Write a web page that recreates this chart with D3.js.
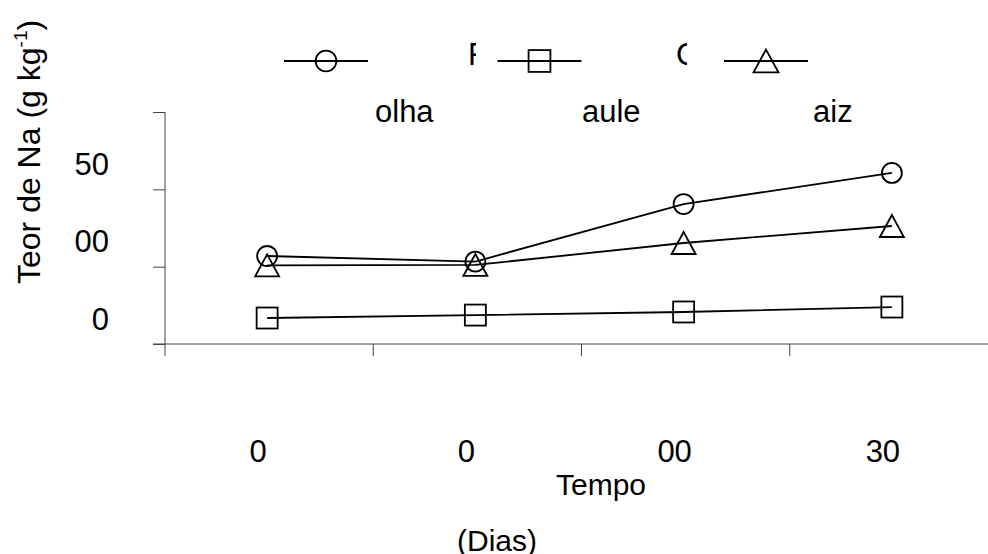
<!DOCTYPE html>
<html>
<head>
<meta charset="utf-8">
<script src="https://cdn.jsdelivr.net/npm/d3@7"></script>
<style>
  html, body { margin: 0; padding: 0; background: #fff; }
  svg { display: block; font-family: "Liberation Sans", Arial, sans-serif; }
</style>
</head>
<body>
<svg id="chart" width="988" height="554"></svg>
<script>
// ---- data ----
const categories = [0, 1, 2, 3];
const xTickLabels = ["0", "0", "00", "30"];
const yTickValues = [0, 50, 100, 150];
const yTickLabels = ["0", "00", "50", ""];
const seriesNames = ["Folha", "Caule", "Raiz"];
const folha = [56.9, 53.3, 90.5, 110.6];
const caule = [16.8, 18.7, 20.7, 23.9];
const raiz  = [50.8, 51.1, 65.3, 76.3];
const yTitle = "Teor de Na (g kg";
const yTitleSup = "-1";
const xTitle = "Tempo";
const xSubTitle = "(Dias)";

const series = [
  { name: seriesNames[0], values: folha, symbol: "circle" },
  { name: seriesNames[1], values: caule, symbol: "square" },
  { name: seriesNames[2], values: raiz,  symbol: "triangle" }
];

const svg = d3.select("#chart");
const axisColor = "#444";

const x = d3.scaleBand().domain(categories).range([165, 998]).padding(0);
const y = d3.scaleLinear().domain([0, 150]).range([344, 112]);
const cx = c => x(c) + x.bandwidth() / 2 - 2;

// ---- axes ----
const yAxis = d3.axisLeft(y).tickValues(yTickValues).tickSize(12).tickFormat((d, i) => yTickLabels[i]);
const gy = svg.append("g").attr("transform", "translate(165,0)").call(yAxis);
gy.select(".domain").attr("stroke", axisColor).attr("d", "M0," + y(150) + "V" + (y(0) + 12));
gy.selectAll(".tick line").attr("stroke", axisColor);
gy.selectAll(".tick text")
  .attr("x", -56).attr("dy", null).attr("y", -15)
  .attr("fill", "#000").attr("font-size", 31)
  .attr("font-family", "Liberation Sans, Arial, sans-serif")
  .attr("text-anchor", "end");

// x axis line with band boundary ticks
svg.append("line").attr("x1", 153).attr("x2", 988).attr("y1", y(0)).attr("y2", y(0)).attr("stroke", axisColor);
svg.selectAll(".xtick").data(categories.slice(1)).enter().append("line")
  .attr("x1", d => x(d)).attr("x2", d => x(d))
  .attr("y1", y(0)).attr("y2", y(0) + 12).attr("stroke", axisColor);
svg.selectAll(".xlab").data(categories).enter().append("text")
  .attr("x", d => cx(d) - 9).attr("y", 462)
  .attr("text-anchor", "middle").attr("font-size", 31)
  .text((d, i) => xTickLabels[i]);

// ---- titles ----
const yt = svg.append("text").attr("transform", "translate(40,284) rotate(-90)").attr("font-size", 32);
yt.append("tspan").text(yTitle);
yt.append("tspan").attr("font-size", 19).attr("dy", -13).text(yTitleSup);
yt.append("tspan").attr("dy", 13).text(")");

svg.append("text").attr("x", 601).attr("y", 495).attr("text-anchor", "middle").attr("font-size", 30).text(xTitle);
svg.append("text").attr("x", 497).attr("y", 551).attr("text-anchor", "middle").attr("font-size", 30).text(xSubTitle);

// ---- markers ----
function drawMarker(g, type, px, py, s) {
  if (type === "circle") {
    g.append("circle").attr("cx", px).attr("cy", py).attr("r", 10 * s);
  } else if (type === "square") {
    g.append("rect").attr("x", px - 10.5 * s).attr("y", py - 10.5 * s).attr("width", 21 * s).attr("height", 21 * s);
  } else {
    g.append("path").attr("d", d3.line()([[px, py - 11 * s], [px + 12 * s, py + 11 * s], [px - 12 * s, py + 11 * s]]) + "Z");
  }
}

const line = d3.line().x((d, i) => cx(categories[i])).y(d => y(d));
const plot = svg.append("g");
series.forEach(s => {
  plot.append("path").attr("d", line(s.values)).attr("fill", "none").attr("stroke", "#000").attr("stroke-width", 1.8);
});
series.forEach(s => {
  const g = plot.append("g").attr("fill", "none").attr("stroke", "#000").attr("stroke-width", 1.8);
  s.values.forEach((v, i) => drawMarker(g, s.symbol, cx(categories[i]), y(v), 1));
});

// ---- legend (as rendered: clipped entries) ----
const legendCenters = [326, 539.5, 766];
const legendTextX = [375, 582, 813];
const clipFirst = [{ x: 468, clip: 476 }, { x: 676, clip: 687 }, null];
const defs = svg.append("defs");
series.forEach((s, i) => {
  const g = svg.append("g");
  const c = legendCenters[i];
  g.append("line").attr("x1", c - 42).attr("x2", c + 42).attr("y1", 61).attr("y2", 61)
    .attr("stroke", "#000").attr("stroke-width", 1.8);
  const mg = g.append("g").attr("fill", "none").attr("stroke", "#000").attr("stroke-width", 1.8);
  drawMarker(mg, s.symbol, c, 61, 1.04);
  const cf = clipFirst[i];
  if (cf) {
    const id = "clip" + i;
    defs.append("clipPath").attr("id", id).append("rect")
      .attr("x", cf.x - 5).attr("y", 30).attr("width", cf.clip - cf.x + 5).attr("height", 50);
    g.append("text").attr("x", cf.x).attr("y", 65).attr("font-size", 31)
      .attr("clip-path", "url(#" + id + ")").text(s.name.charAt(0));
  }
  g.append("text").attr("x", legendTextX[i]).attr("y", 122).attr("font-size", 31).text(s.name.slice(1));
});
</script>
</body>
</html>
